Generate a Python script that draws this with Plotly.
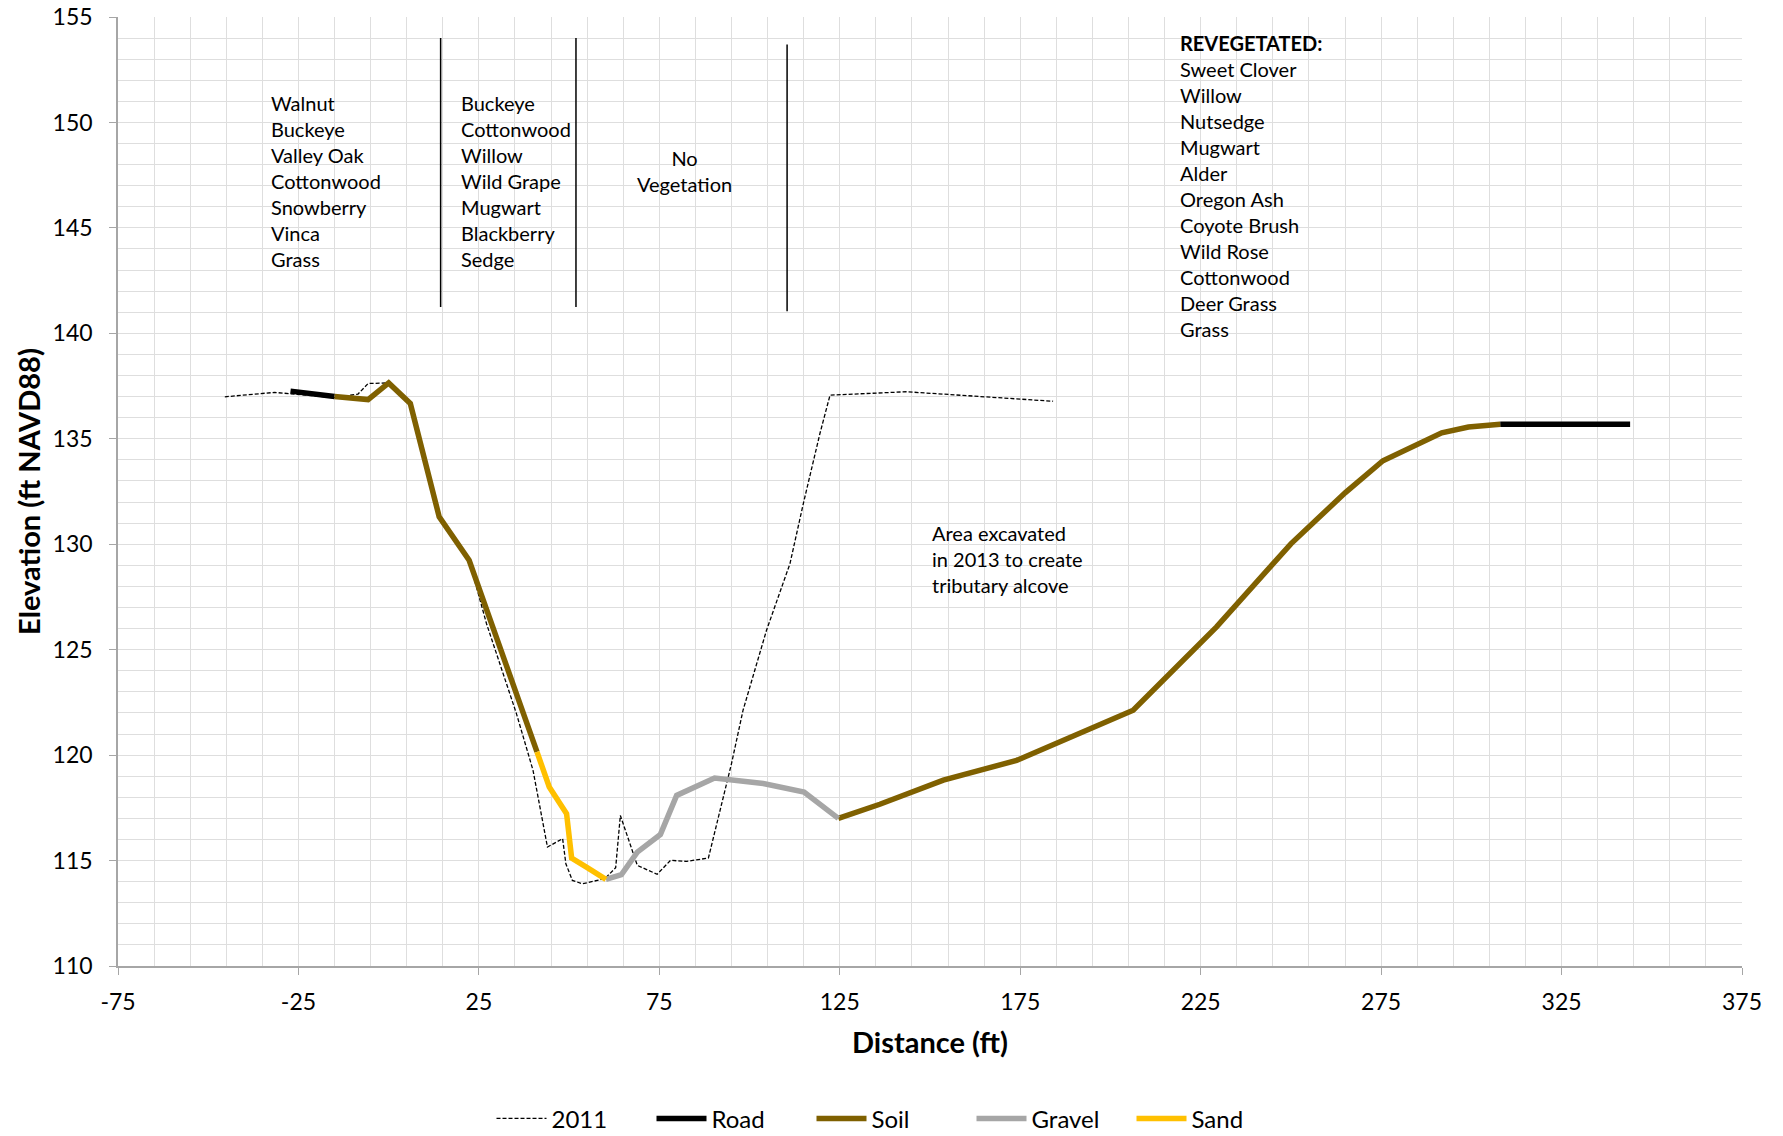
import plotly.graph_objects as go

# ---- data (distance ft, elevation ft NAVD88) ----
x_2011 = [-45.4, -31.6, -15.0, -8.5, -5.7, 0.0, 6.0, 14.0, 22.3, 27.1, 35.4, 40.0,
          44.0, 48.2, 49.1, 50.9, 53.7, 59.9, 62.9, 64.2, 68.9, 74.4, 78.1, 82.5,
          88.6, 95.0, 98.2, 104.7, 111.2, 114.9, 119.5, 122.3, 143.5, 164.7, 184.1]
y_2011 = [136.99, 137.2, 136.95, 137.12, 137.62, 137.65, 136.67, 131.3, 129.24, 126.24,
          121.97, 119.28, 115.64, 116.04, 114.85, 114.06, 113.9, 114.14, 114.66, 117.14,
          114.77, 114.35, 115.01, 114.96, 115.12, 119.6, 122.13, 125.92, 129.08, 131.93,
          135.25, 137.07, 137.23, 137.0, 136.78]

x_road = [-27.2, -15.0, None, 308.0, 344.0]
y_road = [137.26, 137.0, None, 135.69, 135.69]

x_soil = [-15.0, -5.7, 0.0, 6.0, 14.0, 22.3, 41.1, None,
          124.6, 136.1, 153.7, 174.0, 206.3, 229.4, 250.0, 265.1, 275.5, 291.8, 299.2, 308.0]
y_soil = [137.0, 136.86, 137.65, 136.67, 131.3, 129.24, 120.15, None,
          117.0, 117.67, 118.81, 119.75, 122.13, 126.08, 130.02, 132.45, 133.96, 135.28, 135.56, 135.69]

x_gravel = [60.2, 64.5, 68.9, 75.3, 79.8, 90.3, 103.8, 115.1, 124.6]
y_gravel = [114.11, 114.33, 115.4, 116.24, 118.09, 118.91, 118.65, 118.25, 117.0]

x_sand = [41.1, 44.5, 49.3, 50.7, 54.8, 60.2]
y_sand = [120.15, 118.49, 117.22, 115.12, 114.69, 114.11]

# axis ticks (plain hyphen minus, as in the original)
x_ticks = [-75, -25, 25, 75, 125, 175, 225, 275, 325, 375]
x_ticklabels = [str(v) for v in x_ticks]

# vegetation zone dividers
divider_x = [14.4, 51.9, 110.4]
divider_top = [154.0, 154.0, 153.7]
divider_bottom = [141.25, 141.25, 141.05]

zone1 = ["Walnut", "Buckeye", "Valley Oak", "Cottonwood", "Snowberry", "Vinca", "Grass"]
zone2 = ["Buckeye", "Cottonwood", "Willow", "Wild Grape", "Mugwart", "Blackberry", "Sedge"]
zone3 = ["No", "Vegetation"]
reveg = ["<b>REVEGETATED:</b>", "Sweet Clover", "Willow", "Nutsedge", "Mugwart", "Alder",
         "Oregon Ash", "Coyote Brush", "Wild Rose", "Cottonwood", "Deer Grass", "Grass"]
excavated = ["Area excavated", "in 2013 to create", "tributary alcove"]

FONT = "Lato"
GRID = "#DEDEDE"
AXIS = "#A6A6A6"
LW = 5.5

fig = go.Figure()
fig.add_trace(go.Scatter(x=x_2011, y=y_2011, mode="lines", name="2011",
                         line=dict(color="black", width=1.3, dash="4px,2px")))
fig.add_trace(go.Scatter(x=x_road, y=y_road, mode="lines", name="Road",
                         line=dict(color="black", width=LW)))
fig.add_trace(go.Scatter(x=x_soil, y=y_soil, mode="lines", name="Soil",
                         line=dict(color="#7F6000", width=LW)))
fig.add_trace(go.Scatter(x=x_gravel, y=y_gravel, mode="lines", name="Gravel",
                         line=dict(color="#A6A6A6", width=LW)))
fig.add_trace(go.Scatter(x=x_sand, y=y_sand, mode="lines", name="Sand",
                         line=dict(color="#FFC000", width=LW)))

for dx, t, b in zip(divider_x, divider_top, divider_bottom):
    fig.add_shape(type="line", xref="x", yref="y", x0=dx, x1=dx, y0=b, y1=t,
                  line=dict(color="black", width=1.5))

txt = dict(family=FONT, size=20, color="black")
fig.add_annotation(x=-33.1, y=147.2, text="<br>".join(zone1), showarrow=False,
                   xanchor="left", yanchor="middle", align="left", font=txt)
fig.add_annotation(x=19.6, y=147.2, text="<br>".join(zone2), showarrow=False,
                   xanchor="left", yanchor="middle", align="left", font=txt)
fig.add_annotation(x=82.0, y=147.7, text="<br>".join(zone3), showarrow=False,
                   xanchor="center", yanchor="middle", align="center", font=txt)
fig.add_annotation(x=218.6, y=147.0, text="<br>".join(reveg), showarrow=False,
                   xanchor="left", yanchor="middle", align="left", font=txt)
fig.add_annotation(x=150.0, y=129.3, text="<br>".join(excavated), showarrow=False,
                   xanchor="left", yanchor="middle", align="left", font=txt)

fig.update_xaxes(range=[-75, 375], tickvals=x_ticks, ticktext=x_ticklabels,
                 showgrid=True, gridcolor=GRID,
                 minor=dict(tick0=-75, dtick=10, showgrid=True, gridcolor=GRID),
                 showline=True, linecolor=AXIS, linewidth=1.5, zeroline=False,
                 ticks="outside", ticklen=7, tickcolor=AXIS, ticklabelstandoff=8,
                 automargin=False, ticklabeloverflow="allow",
                 tickfont=dict(family=FONT, size=23, color="black"),
                 title=dict(text="<b>Distance (ft)</b>", standoff=18,
                            font=dict(family=FONT, size=29, color="black")))
fig.update_yaxes(range=[110, 155], dtick=5, showgrid=True, gridcolor=GRID,
                 minor=dict(dtick=1, showgrid=True, gridcolor=GRID),
                 showline=True, linecolor=AXIS, linewidth=1.5, zeroline=False,
                 ticks="outside", ticklen=7, tickcolor=AXIS, ticklabelstandoff=12,
                 automargin=False, ticklabeloverflow="allow",
                 tickfont=dict(family=FONT, size=23, color="black"),
                 title=dict(text="<b>Elevation (ft NAVD88)</b>", standoff=3,
                            font=dict(family=FONT, size=29, color="black")))

fig.update_layout(width=1783, height=1136, plot_bgcolor="white", paper_bgcolor="white",
                  margin=dict(l=118, r=41, t=17, b=170, autoexpand=False),
                  legend=dict(orientation="h", xref="container", x=0.5, xanchor="center",
                              yref="paper", y=-0.161, yanchor="middle",
                              font=dict(family=FONT, size=24, color="black"),
                              itemwidth=50, entrywidth=95, entrywidthmode="pixels"))

# drop the default 8px page margin so the figure fills the window exactly
fig.write_html("out.html", config={"displayModeBar": False},
               post_script="document.body.style.margin='0';")
